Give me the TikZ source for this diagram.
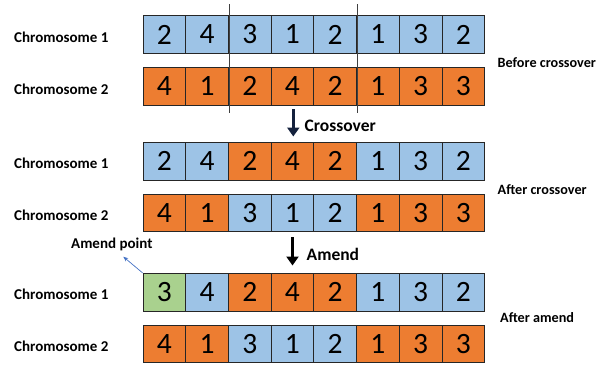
\documentclass[tikz,border=0pt]{standalone}
\usepackage{fontspec}
\setmainfont{Carlito}
\usetikzlibrary{arrows.meta}
\definecolor{cblue}{HTML}{9DC3E6}
\definecolor{corange}{HTML}{ED7D31}
\definecolor{cgreen}{HTML}{A9D18E}
\definecolor{navy}{HTML}{14213D}
\definecolor{ptblue}{HTML}{4472C4}
\begin{document}
\begin{tikzpicture}[x=1pt,y=-1pt,
  cell/.style={draw=black!85,line width=0.8pt,minimum width=42.7pt,minimum height=37.6pt,inner sep=0pt,anchor=center,font=\fontsize{29.5}{29.5}\selectfont},
  B/.style={cell,fill=cblue},
  O/.style={cell,fill=corange},
  G/.style={cell,fill=cgreen},
  rowlabel/.style={anchor=west,font=\bfseries\fontsize{15}{15}\selectfont,inner sep=0pt},
  stagelabel/.style={anchor=west,font=\bfseries\fontsize{14.2}{14.2}\selectfont,inner sep=0pt},
  steplabel/.style={anchor=west,font=\bfseries\fontsize{17.5}{17.5}\selectfont,inner sep=0pt},
  bigarrow/.style={line width=3.5pt,-{Triangle[width=12pt,length=9pt]}},
  cutline/.style={draw=black!75,line width=0.9pt}]
\useasboundingbox (0,0) rectangle (610,367);
% cells
\foreach \r/\yc/\cells in {
  1/34.5/{B/2,B/4,B/3,B/1,B/2,B/1,B/3,B/2},
  2/86.3/{O/4,O/1,O/2,O/4,O/2,O/1,O/3,O/3},
  3/161.3/{B/2,B/4,O/2,O/4,O/2,B/1,B/3,B/2},
  4/213/{O/4,O/1,B/3,B/1,B/2,O/1,O/3,O/3},
  5/292.1/{G/3,B/4,O/2,O/4,O/2,B/1,B/3,B/2},
  6/343.9/{O/4,O/1,B/3,B/1,B/2,O/1,O/3,O/3}}{
  \foreach \s/\d [count=\i] in \cells {
    \pgfmathsetmacro{\xc}{143+42.7*(\i-0.5)}
    \node[\s] (c-\r-\i) at (\xc,\yc) {\d};
  }
}
% row labels
\foreach \r/\yc/\t in {1/37/1,2/89/2,3/163.5/1,4/215/2,5/294/1,6/346/2}{
  \node[rowlabel] (lab-\r) at (14,\yc) {Chromosome \t};
}
% stage labels
\node[stagelabel] (before) at (497.5,63) {Before crossover};
\node[stagelabel] (after) at (497.5,189.5) {After crossover};
\node[stagelabel] (afteramend) at (500,318) {After amend};
% cut lines
\coordinate (cutAtop) at (229,4);
\coordinate (cutAbot) at (229,112.7);
\coordinate (cutBtop) at (357,4);
\coordinate (cutBbot) at (357,112.7);
\draw[cutline] (cutAtop) -- (cutAbot);
\draw[cutline] (cutBtop) -- (cutBbot);
% step arrows
\coordinate (crossS) at (293.3,109);
\coordinate (crossE) at (293.3,136.5);
\draw[bigarrow,draw=navy,fill=navy] (crossS) -- (crossE);
\node[steplabel] (crosslab) at (304.5,125.5) {Crossover};
\coordinate (amendS) at (292.5,237);
\coordinate (amendE) at (292.5,265.5);
\draw[bigarrow,draw=black,fill=black] (amendS) -- (amendE);
\node[steplabel] (amendlab) at (306.5,254) {Amend};
% amend point
\node[anchor=west,font=\bfseries\fontsize{15}{15}\selectfont,inner sep=0pt] (amendpt) at (71,244) {Amend point};
\coordinate (amendtip) at (123.3,256.7);
\draw[ptblue,line width=0.7pt,-{Stealth[length=5pt,width=4pt]}] (c-5-1.north west) -- (amendtip);
\end{tikzpicture}
\end{document}
